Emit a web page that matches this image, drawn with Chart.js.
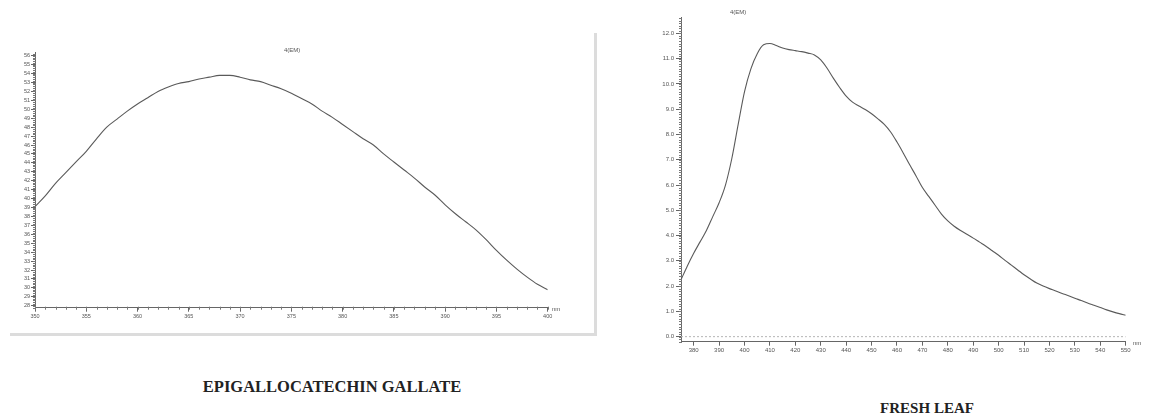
<!DOCTYPE html>
<html>
<head>
<meta charset="utf-8">
<script src="https://cdn.jsdelivr.net/npm/chart.js@4/dist/chart.umd.min.js"></script>
<style>
  html, body { margin: 0; padding: 0; background: #fff; }
  body { width: 1165px; height: 419px; position: relative; overflow: hidden; font-family: "Liberation Sans", Arial, sans-serif; }
  canvas { position: absolute; }
  #egcg { left: 0; top: 0; }
  #leaf { left: 620px; top: 0; }
  .frame { position: absolute; left: 10px; top: 33px; width: 584px; height: 300px; border-right: 3px solid #dcdcdc; border-bottom: 3px solid #dcdcdc; }
  .small { position: absolute; font-size: 6px; color: #555; white-space: nowrap; }
  .caption { position: absolute; font-family: "Liberation Serif", "Times New Roman", serif; font-weight: bold; color: #222; white-space: nowrap; transform: translateX(-50%); }
</style>
</head>
<body>
<div class="frame"></div>
<canvas id="egcg" width="600" height="340"></canvas>
<canvas id="leaf" width="545" height="360"></canvas>
<div class="small" style="left:284px; top:47px;">4(EM)</div>
<div class="small" style="left:730px; top:9px;">4(EM)</div>
<div class="small" style="left:552px; top:306px;">nm</div>
<div class="small" style="left:1133px; top:340px;">nm</div>
<div class="caption" style="left:332px; top:377px; font-size:16.5px;">EPIGALLOCATECHIN GALLATE</div>
<div class="caption" style="left:927px; top:400px; font-size:15px;">FRESH LEAF</div>
<script>
// Epigallocatechin gallate emission spectrum (nm vs intensity)
const egcgWavelength = [350,351,352,353,354,355,356,357,358,359,360,361,362,363,364,365,366,367,368,369,370,
  371,372,373,374,375,376,377,378,379,380,381,382,383,384,385,386,387,388,389,390,
  391,392,393,394,395,396,397,398,399,400];
const egcgIntensity = [39.1,40.3,41.7,42.9,44.1,45.3,46.7,48.0,48.9,49.8,50.6,51.3,52.0,52.5,52.9,53.1,53.4,53.6,53.8,53.8,53.6,
  53.3,53.1,52.7,52.3,51.8,51.2,50.6,49.8,49.1,48.3,47.5,46.7,46.0,45.0,44.1,43.2,42.3,41.3,40.4,39.3,
  38.3,37.4,36.5,35.4,34.2,33.1,32.1,31.2,30.4,29.8];
const egcgXTicks = [350,355,360,365,370,375,380,385,390,395,400];
const egcgYTicks = [28,29,30,31,32,33,34,35,36,37,38,39,40,41,42,43,44,45,46,47,48,49,50,51,52,53,54,55,56];

// Fresh leaf emission spectrum
const leafWavelength = [375,377.5,380,382.5,385,387.5,390,392.5,395,397.5,400,402.5,405,407.5,410,412.5,415,417.5,420,
  422.5,425,427.5,430,432.5,435,437.5,440,442.5,445,447.5,450,452.5,455,457.5,460,462.5,465,467.5,470,
  472.5,475,477.5,480,482.5,485,487.5,490,492.5,495,497.5,500,502.5,505,507.5,510,512.5,515,517.5,520,
  522.5,525,527.5,530,532.5,535,537.5,540,542.5,545,547.5,550];
const leafIntensity = [2.25,2.8,3.3,3.75,4.2,4.75,5.3,6.0,7.05,8.4,9.7,10.6,11.2,11.55,11.6,11.52,11.42,11.36,11.32,
  11.28,11.22,11.15,10.95,10.62,10.22,9.85,9.52,9.28,9.13,8.99,8.82,8.62,8.40,8.10,7.70,7.26,6.80,6.36,5.90,
  5.55,5.20,4.85,4.58,4.37,4.20,4.05,3.90,3.74,3.58,3.40,3.22,3.02,2.83,2.64,2.45,2.28,2.12,2.00,1.90,
  1.81,1.71,1.62,1.52,1.43,1.33,1.24,1.15,1.06,0.98,0.91,0.85];
const leafBaselineX = [375,550];
const leafBaselineY = [0,0];
const leafXTicks = [380,390,400,410,420,430,440,450,460,470,480,490,500,510,520,530,540,550];
const leafYTicks = [0,1,2,3,4,5,6,7,8,9,10,11,12];

const points = (xs, ys) => xs.map((x, i) => ({ x: x, y: ys[i] }));

// small ruler ticks between the labelled ones, placed through the scales
const minorTicks = {
  id: 'minorTicks',
  afterDraw(chart, args, o) {
    const ctx = chart.ctx, xs = chart.scales.x, ys = chart.scales.y;
    ctx.save();
    ctx.strokeStyle = o.color;
    ctx.lineWidth = 1;
    const n = Math.round((ys.max - ys.min) / o.yStep) + 2;
    const y0 = Math.ceil(ys.min / o.yStep);
    for (let i = 0; i < n; i++) {
      const v = (y0 + i) * o.yStep;
      if (v > ys.max + 1e-9) break;
      const py = Math.round(ys.getPixelForValue(v)) + 0.5;
      ctx.beginPath();
      ctx.moveTo(xs.left - o.yLen, py);
      ctx.lineTo(xs.left + o.yIn, py);
      ctx.stroke();
    }
    if (o.xStep) {
      const m = Math.round((xs.max - xs.min) / o.xStep) + 2;
      const x0 = Math.ceil(xs.min / o.xStep);
      for (let i = 0; i < m; i++) {
        const v = (x0 + i) * o.xStep;
        if (v > xs.max + 1e-9) break;
        const px = Math.round(xs.getPixelForValue(v)) + 0.5;
        ctx.beginPath();
        ctx.moveTo(px, ys.bottom - 1);
        ctx.lineTo(px, ys.bottom + o.xLen);
        ctx.stroke();
      }
    }
    ctx.restore();
  }
};

function fixedTicks(list) {
  return (scale) => { scale.ticks = list.map(v => ({ value: v })); };
}

function makeChart(id, cfg) {
  return new Chart(document.getElementById(id), {
    type: 'line',
    data: { datasets: cfg.datasets },
    plugins: [minorTicks],
    options: {
      responsive: false,
      animation: false,
      devicePixelRatio: 1,
      layout: { padding: cfg.padding },
      plugins: { legend: { display: false }, tooltip: { enabled: false }, minorTicks: cfg.minor },
      elements: { point: { radius: 0 } },
      scales: {
        x: {
          type: 'linear', min: cfg.xMin, max: cfg.xMax,
          afterBuildTicks: fixedTicks(cfg.xTicks),
          afterFit: (s) => { s.height = cfg.xHeight; },
          grid: { drawOnChartArea: false, tickLength: cfg.xTickLen, color: '#666' },
          border: { color: '#666', width: 1 },
          ticks: { font: { size: cfg.font, family: 'Liberation Sans' }, color: '#555', padding: 1, maxRotation: 0, autoSkip: false }
        },
        y: {
          type: 'linear', min: cfg.yMin, max: cfg.yMax,
          afterBuildTicks: fixedTicks(cfg.yTicks),
          afterFit: (s) => { s.width = cfg.yWidth; },
          grid: { drawOnChartArea: false, tickLength: cfg.yTickLen, color: '#666' },
          border: { color: '#666', width: 1 },
          ticks: { font: { size: cfg.font, family: 'Liberation Sans' }, color: '#555', padding: cfg.yPad, autoSkip: false, callback: cfg.yFmt }
        }
      }
    }
  });
}

makeChart('egcg', {
  datasets: [{ data: points(egcgWavelength, egcgIntensity), borderColor: '#5a5a5a', borderWidth: 1.1, cubicInterpolationMode: 'monotone' }],
  padding: { left: 0, top: 52.7, right: 52.3, bottom: 0 },
  xMin: 350, xMax: 400, yMin: 27.78, yMax: 56.34,
  xTicks: egcgXTicks, yTicks: egcgYTicks,
  xHeight: 32.3, yWidth: 35, xTickLen: 4, yTickLen: 4, font: 5.5, yPad: 1,
  yFmt: (v) => String(v),
  minor: { color: '#777', yStep: 0.2, yLen: 2, yIn: 1, xStep: 1, xLen: 2 }
});

makeChart('leaf', {
  datasets: [
    { data: points(leafWavelength, leafIntensity), borderColor: '#5a5a5a', borderWidth: 1.1, cubicInterpolationMode: 'monotone' },
    { data: points(leafBaselineX, leafBaselineY), borderColor: '#b5b5b5', borderWidth: 1, borderDash: [2, 2] }
  ],
  padding: { left: 0, top: 17, right: 39.3, bottom: 0 },
  xMin: 375, xMax: 550, yMin: -0.2, yMax: 12.65,
  xTicks: leafXTicks, yTicks: leafYTicks,
  xHeight: 18.3, yWidth: 61, xTickLen: 4, yTickLen: 5, font: 6, yPad: 2,
  yFmt: (v) => v.toFixed(1),
  minor: { color: '#777', yStep: 0.1, yLen: 2, yIn: 1, xStep: 0, xLen: 0 }
});
</script>
</body>
</html>
